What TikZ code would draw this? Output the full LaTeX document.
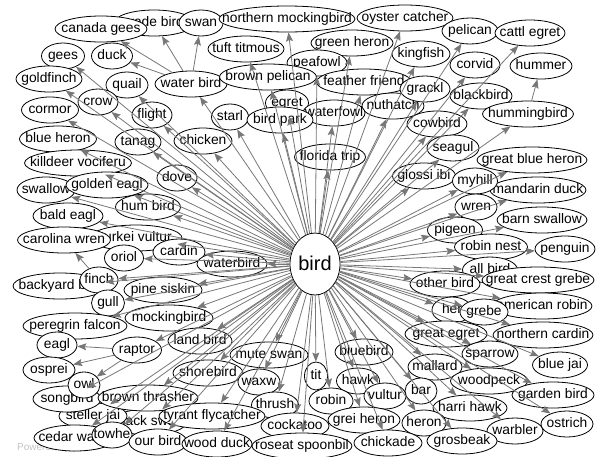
\documentclass[tikz,border=0pt]{standalone}
\usepackage{fontspec}
\setmainfont{Liberation Sans}
\usetikzlibrary{shapes.geometric,arrows.meta}
\definecolor{edgegray}{HTML}{777777}
\definecolor{wmgray}{HTML}{C4C4C4}
\tikzset{
 bnode/.style={ellipse, draw=black, line width=0.8pt, fill=white, inner sep=0pt,
   minimum height=26pt, font=\fontsize{13.8}{14}\selectfont, text height=9.9pt, text depth=2.7pt},
 edge/.style={draw=edgegray, line width=0.8pt, -{Stealth[length=9pt,width=7pt,inset=1.5pt]}},
}
\newcommand{\BN}[5]{\node[bnode, minimum width=#4pt] (#1) at (#2,#3) {\makebox[0pt]{#5}};}
\begin{document}
\begin{tikzpicture}[x=1pt,y=-1pt]
\useasboundingbox (0,0) rectangle (600,456);
\node[anchor=west, text=wmgray, font=\fontsize{10}{11}\selectfont, inner sep=0pt] (wm) at (17,448) {Powered by yFiles};
\BN{wadebird}{154}{23}{80}{wade bird}
\BN{canadagees}{101}{29}{92}{canada gees}
\BN{swan}{201}{23}{44}{swan}
\BN{northmock}{287}{19}{136}{northern mockingbird}
\BN{oyster}{405}{18}{96}{oyster catcher}
\BN{pelican}{470}{31}{56}{pelican}
\BN{cattl}{530}{33}{70}{cattl egret}
\BN{gees}{63}{56}{43}{gees}
\BN{duck}{112}{56}{41}{duck}
\BN{tuft}{246}{49}{76}{tuft titmous}
\BN{greenheron}{352}{43}{82}{green heron}
\BN{kingfish}{421}{54}{58}{kingfish}
\BN{corvid}{475}{65}{50}{corvid}
\BN{hummer}{541}{66}{62}{hummer}
\BN{goldfinch}{49}{79}{66}{goldfinch}
\BN{quail}{127}{85}{42}{quail}
\BN{waterbirdtwo}{191}{84}{72}{water bird}
\BN{peafowl}{317}{63}{60}{peafowl}
\BN{brownpelican}{268}{77}{97}{brown pelican}
\BN{feather}{364}{82}{95}{feather friend}
\BN{nuthatch}{393}{106}{62}{nuthatch}
\BN{grackl}{425}{89}{50}{grackl}
\BN{blackbird}{481}{96}{62}{blackbird}
\BN{hummingbird}{528}{114}{91}{hummingbird}
\BN{cormor}{50}{110}{57}{cormor}
\BN{crow}{98}{102}{40}{crow}
\BN{flight}{152}{115}{40}{flight}
\BN{starl}{230}{117}{37}{starl}
\BN{egret}{287}{103}{43}{egret}
\BN{waterfowl}{334}{113}{62}{waterfowl}
\BN{birdpark}{280}{120}{66}{bird park}
\BN{bluheron}{58}{139}{77}{blue heron}
\BN{tanag}{138}{142}{46}{tanag}
\BN{chicken}{203}{141}{58}{chicken}
\BN{cowbird}{437}{124}{60}{cowbird}
\BN{seagul}{453}{148}{52}{seagul}
\BN{florida}{330}{157}{71}{florida trip}
\BN{killdeer}{78}{163}{107}{killdeer vociferu}
\BN{dove}{177}{178}{40}{dove}
\BN{gbheron}{532}{160}{110}{great blue heron}
\BN{glossi}{424}{176}{63}{glossi ibi}
\BN{mandarin}{538}{190}{96}{mandarin duck}
\BN{myhill}{475}{181}{45}{myhill}
\BN{swallow}{46}{190}{58}{swallow}
\BN{goldeneagl}{107}{185}{82}{golden eagl}
\BN{humbird}{148}{207}{65}{hum bird}
\BN{wren}{476}{207}{42}{wren}
\BN{baldeagl}{68}{216}{70}{bald eagl}
\BN{barnswallow}{542}{220}{90}{barn swallow}
\BN{pigeon}{455}{230}{55}{pigeon}
\BN{turkei}{136}{238}{92}{turkei vultur}
\BN{carolina}{64}{240}{93}{carolina wren}
\BN{oriol}{124}{258}{39}{oriol}
\BN{cardin}{179}{252}{52}{cardin}
\BN{robinnest}{491}{247}{73}{robin nest}
\BN{penguin}{565}{249}{60}{penguin}
\BN{waterbird}{232}{264}{70}{waterbird}
\node[bnode, minimum width=50pt, minimum height=62pt, font=\fontsize{20}{22}\selectfont, text height=13pt, text depth=0pt] (bird) at (315,264) {\makebox[0pt]{bird}};
\BN{allbird}{490}{270}{55}{all bird}
\BN{otherbird}{445}{284}{70}{other bird}
\BN{gcgrebe}{538}{280}{112}{great crest grebe}
\BN{backyard}{60}{286}{94}{backyard bird}
\BN{finch}{99}{280}{38}{finch}
\BN{pinesiskin}{163}{290}{78}{pine siskin}
\BN{gull}{108}{303}{33}{gull}
\BN{mockingbird}{169}{318}{88}{mockingbird}
\BN{her}{452}{310}{40}{her}
\BN{amrobin}{542}{306}{100}{american robin}
\BN{grebe}{484}{312}{48}{grebe}
\BN{peregrin}{75}{326}{104}{peregrin falcon}
\BN{landbird}{200}{341}{64}{land bird}
\BN{greategret}{446}{334}{82}{great egret}
\BN{northcardin}{543}{335}{100}{northern cardin}
\BN{eagl}{57}{345}{40}{eagl}
\BN{raptor}{137}{350}{49}{raptor}
\BN{muteswan}{269}{355}{78}{mute swan}
\BN{bluebird}{364}{352}{58}{bluebird}
\BN{sparrow}{490}{354}{56}{sparrow}
\BN{bluejai}{560}{365}{55}{blue jai}
\BN{mallard}{435}{367}{54}{mallard}
\BN{osprei}{49}{370}{52}{osprei}
\BN{shorebird}{208}{373}{70}{shorebird}
\BN{waxw}{259}{382}{42}{waxw}
\node[bnode, minimum width=23pt, minimum height=28pt] (tit) at (316,376) {\makebox[0pt]{tit}};
\BN{hawk}{358}{381}{43}{hawk}
\BN{vultur}{385}{396}{42}{vultur}
\BN{bar}{421}{391}{32}{bar}
\BN{woodpeck}{489}{381}{77}{woodpeck}
\BN{gardenbird}{553}{395}{82}{garden bird}
\BN{blacksw}{149}{422}{75}{black swan}
\BN{stellerjai}{93}{416}{68}{steller jai}
\BN{songbird}{67}{399}{68}{songbird}
\BN{owl}{84}{385}{32}{owl}
\BN{brownthrasher}{148}{398}{100}{brown thrasher}
\BN{thrush}{275}{405}{47}{thrush}
\BN{robin}{331}{401}{44}{robin}
\BN{harrihawk}{470}{408}{74}{harri hawk}
\BN{tyrant}{212}{416}{106}{tyrant flycatcher}
\BN{cockatoo}{295}{426}{68}{cockatoo}
\BN{greiheron}{364}{420}{72}{grei heron}
\BN{heron}{424}{423}{44}{heron}
\BN{warbler}{515}{431}{56}{warbler}
\BN{ostrich}{567}{424}{52}{ostrich}
\BN{cedarwaxw}{75}{438}{82}{cedar waxw}
\BN{towhe}{112}{435}{40}{towhe}
\BN{ourbird}{158}{442}{58}{our bird}
\BN{woodduck}{217}{444}{70}{wood duck}
\BN{roseat}{302}{446}{100}{roseat spoonbil}
\BN{chickade}{388}{443}{68}{chickade}
\BN{grosbeak}{462}{441}{70}{grosbeak}
% edges
\foreach \t in {northmock,oyster,pelican,cattl,gees,tuft,greenheron,kingfish,corvid,goldfinch,quail,waterbirdtwo,peafowl,brownpelican,feather,nuthatch,grackl,blackbird,hummingbird,cormor,crow,flight,starl,egret,waterfowl,birdpark,bluheron,tanag,chicken,cowbird,seagul,florida,killdeer,dove,gbheron,glossi,mandarin,myhill,swallow,goldeneagl,humbird,wren,baldeagl,barnswallow,pigeon,turkei,oriol,cardin,robinnest,penguin,waterbird,allbird,otherbird,gcgrebe,backyard,finch,pinesiskin,gull,mockingbird,her,amrobin,grebe,peregrin,landbird,greategret,northcardin,raptor,muteswan,bluebird,sparrow,bluejai,mallard,shorebird,waxw,tit,hawk,vultur,bar,woodpeck,gardenbird,blacksw,stellerjai,songbird,brownthrasher,thrush,robin,harrihawk,tyrant,cockatoo,greiheron,heron,warbler,ostrich,cedarwaxw,towhe,ourbird,woodduck,roseat,chickade,grosbeak}
  {\draw[edge] (bird) -- (\t);}
\foreach \t in {swan,wadebird,duck,canadagees}
  {\draw[edge] (waterbirdtwo) -- (\t);}
\draw[edge] (hummingbird) -- (hummer);
\foreach \t in {eagl,osprei,owl}
  {\draw[edge] (raptor) -- (\t);}
\draw[edge] (finch) -- (carolina);
\end{tikzpicture}
\end{document}
